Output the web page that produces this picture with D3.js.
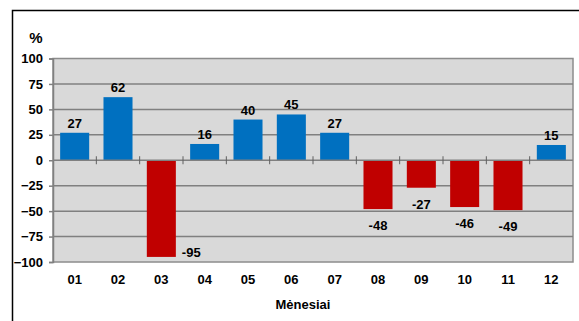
<!DOCTYPE html>
<head>
	<meta charset="utf-8" />
	<style>
		body {
			margin: 0;
			background: #fff;
		}
		text {
			font-family: 'Liberation Sans', Arial, sans-serif;
			font-weight: bold;
			font-size: 13px;
			fill: #000;
		}
	</style>
</head>
<body>
	<svg id="chart" width="579" height="321"></svg>
	<script src="https://cdnjs.cloudflare.com/ajax/libs/d3/7.8.5/d3.min.js"></script>
	<script>
		var months = ['01', '02', '03', '04', '05', '06', '07', '08', '09', '10', '11', '12'];
		var values = [27, 62, -95, 16, 40, 45, 27, -48, -27, -46, -49, 15];
		var yTicks = [100, 75, 50, 25, 0, -25, -50, -75, -100];
		var yUnit = '%';
		var xTitle = 'Mėnesiai';

		var plot = { left: 53, right: 573, top: 58.5, bottom: 262 };

		var svg = d3.select('#chart');

		// outer frame (left + top only visible)
		svg.append('path')
			.attr('d', 'M12.5,321 V10.5 H579')
			.attr('fill', 'none')
			.attr('stroke', '#000')
			.attr('stroke-width', 1.5);

		var x = d3.scaleBand()
			.domain(months)
			.range([plot.left, plot.right])
			.paddingInner(0.33)
			.paddingOuter(0.165);

		var y = d3.scaleLinear()
			.domain([-100, 100])
			.range([plot.bottom, plot.top]);

		// plot background
		svg.append('rect')
			.attr('x', plot.left)
			.attr('y', plot.top)
			.attr('width', plot.right - plot.left)
			.attr('height', plot.bottom - plot.top)
			.attr('fill', '#d9d9d9')
			.attr('stroke', '#8c8c8c')
			.attr('stroke-width', 1.5);

		// gridlines
		svg.append('g')
			.selectAll('line')
			.data(yTicks.filter(t => t !== 0 && Math.abs(t) !== 100))
			.join('line')
			.attr('x1', plot.left)
			.attr('x2', plot.right)
			.attr('y1', d => y(d))
			.attr('y2', d => y(d))
			.attr('stroke', '#808080')
			.attr('stroke-width', 1.5);

		// y axis
		var yAxis = svg.append('g')
			.attr('transform', 'translate(' + plot.left + ',0)')
			.call(d3.axisLeft(y).tickValues(yTicks).tickSize(4).tickPadding(6));
		yAxis.select('.domain').attr('stroke', '#808080').attr('stroke-width', 1.5);
		yAxis.selectAll('.tick line').attr('stroke', '#808080').attr('stroke-width', 1.5);
		yAxis.selectAll('.tick text').style('font-size', '13px').attr('fill', '#000');

		svg.append('text')
			.attr('x', 36)
			.attr('y', 43)
			.attr('text-anchor', 'middle')
			.style('font-size', '15px')
			.text(yUnit);

		// bars
		svg.append('g')
			.selectAll('rect')
			.data(values)
			.join('rect')
			.attr('x', (d, i) => x(months[i]))
			.attr('width', x.bandwidth())
			.attr('y', d => y(Math.max(0, d)))
			.attr('height', d => Math.abs(y(d) - y(0)))
			.attr('fill', d => (d >= 0 ? '#0070c0' : '#c00000'));

		// zero axis with ticks between categories
		svg.append('line')
			.attr('x1', plot.left)
			.attr('x2', plot.right)
			.attr('y1', y(0))
			.attr('y2', y(0))
			.attr('stroke', '#808080')
			.attr('stroke-width', 1.5);

		var step = x.step();
		svg.append('g')
			.selectAll('line')
			.data(months.slice(1))
			.join('line')
			.attr('x1', d => x(d) - (step - x.bandwidth()) / 2)
			.attr('x2', d => x(d) - (step - x.bandwidth()) / 2)
			.attr('y1', y(0) - 4)
			.attr('y2', y(0) + 4)
			.attr('stroke', '#606060')
			.attr('stroke-width', 1);

		// value labels
		svg.append('g')
			.selectAll('text')
			.data(values)
			.join('text')
			.attr('text-anchor', d => (y(d) + 22 > plot.bottom ? 'start' : 'middle'))
			.attr('x', (d, i) => {
				var cx = x(months[i]) + x.bandwidth() / 2;
				return y(d) + 22 > plot.bottom ? x(months[i]) + x.bandwidth() + 6 : cx;
			})
			.attr('y', d => {
				if (d >= 0) return y(d) - 5;
				if (y(d) + 22 > plot.bottom) return plot.bottom - 5;
				return y(d) + 21;
			})
			.text(d => d);

		// x labels
		svg.append('g')
			.selectAll('text')
			.data(months)
			.join('text')
			.attr('x', d => x(d) + x.bandwidth() / 2)
			.attr('y', 284)
			.attr('text-anchor', 'middle')
			.text(d => d);

		svg.append('text')
			.attr('x', 303)
			.attr('y', 309)
			.attr('text-anchor', 'middle')
			.text(xTitle);
	</script>
</body>
